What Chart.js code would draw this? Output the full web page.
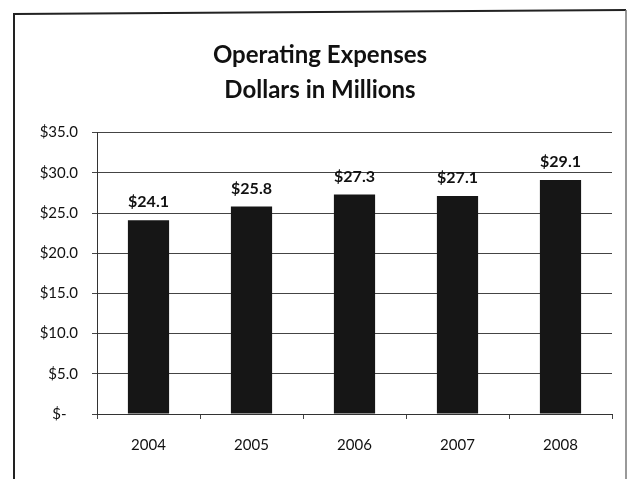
<!DOCTYPE html>
<html>
<head>
<meta charset="utf-8">
<script src="https://cdn.jsdelivr.net/npm/chart.js@4/dist/chart.umd.min.js"></script>
<style>
  html, body { margin: 0; padding: 0; background: #fff; }
  #wrap { width: 629px; height: 479px; }
</style>
</head>
<body>
<div id="wrap"><canvas id="chart"></canvas></div>
<script>
// data
const years = ['2004', '2005', '2006', '2007', '2008']
const expenses = [24.1, 25.8, 27.3, 27.1, 29.1]
const titleLines = ['Operating Expenses', 'Dollars in Millions']

const FONT = 'Lato, "Open Sans", sans-serif'

function money(v) {
    if (v === 0) return '$-   '
    return '$' + v.toFixed(1)
}

// paper frame around the chart (scan border)
const framePlugin = {
    id: 'frame',
    beforeDraw(chart) {
        const ctx = chart.ctx
        ctx.save()
        ctx.fillStyle = '#fff'
        ctx.fillRect(0, 0, chart.width, chart.height)
        ctx.strokeStyle = '#222'
        ctx.lineWidth = 2
        ctx.beginPath()
        ctx.moveTo(14, 479)
        ctx.lineTo(14, 14)
        ctx.lineTo(626, 10)
        ctx.stroke()
        ctx.strokeStyle = '#777'
        ctx.lineWidth = 1.5
        ctx.beginPath()
        ctx.moveTo(626, 10)
        ctx.lineTo(626, 479)
        ctx.stroke()
        ctx.restore()
    }
}

// value labels above each bar
const valueLabels = {
    id: 'valueLabels',
    afterDatasetsDraw(chart) {
        const ctx = chart.ctx
        const meta = chart.getDatasetMeta(0)
        ctx.save()
        ctx.font = 'bold 16px ' + FONT
        ctx.fillStyle = '#111'
        ctx.textAlign = 'center'
        ctx.textBaseline = 'alphabetic'
        meta.data.forEach((bar, i) => {
            ctx.fillText(money(expenses[i]), bar.x, bar.y - 13)
        })
        ctx.restore()
    }
}

const ctx = document.getElementById('chart').getContext('2d')
new Chart(ctx, {
    type: 'bar',
    data: {
        labels: years,
        datasets: [{
            data: expenses,
            backgroundColor: '#161616',
            borderWidth: 0,
            barPercentage: 0.8,
            categoryPercentage: 0.5
        }]
    },
    options: {
        responsive: true,
        maintainAspectRatio: false,
        animation: false,
        layout: { padding: { left: 28, right: 17, top: 14, bottom: 20 } },
        plugins: {
            legend: { display: false },
            tooltip: { enabled: false },
            title: {
                display: true,
                text: titleLines,
                color: '#111',
                font: { family: FONT, size: 24, weight: 'bold', lineHeight: 1.45 },
                padding: { top: 24, bottom: 25 }
            }
        },
        scales: {
            x: {
                afterFit(scale) { scale.height = 45 },
                grid: {
                    offset: true,
                    drawOnChartArea: false,
                    drawTicks: true,
                    tickLength: 5,
                    color: '#444'
                },
                border: { display: true, color: '#333', width: 1 },
                ticks: {
                    color: '#111',
                    padding: 17,
                    font: { family: FONT, size: 15 }
                }
            },
            y: {
                min: 0,
                max: 35,
                afterFit(scale) { scale.width = 69 },
                grid: {
                    color: '#444',
                    tickLength: 5,
                    lineWidth: 1
                },
                border: { display: true, color: '#333', width: 1 },
                ticks: {
                    stepSize: 5,
                    color: '#111',
                    padding: 14,
                    font: { family: FONT, size: 15 },
                    callback: (v) => money(v)
                }
            }
        }
    },
    plugins: [framePlugin, valueLabels]
})
</script>
</body>
</html>
